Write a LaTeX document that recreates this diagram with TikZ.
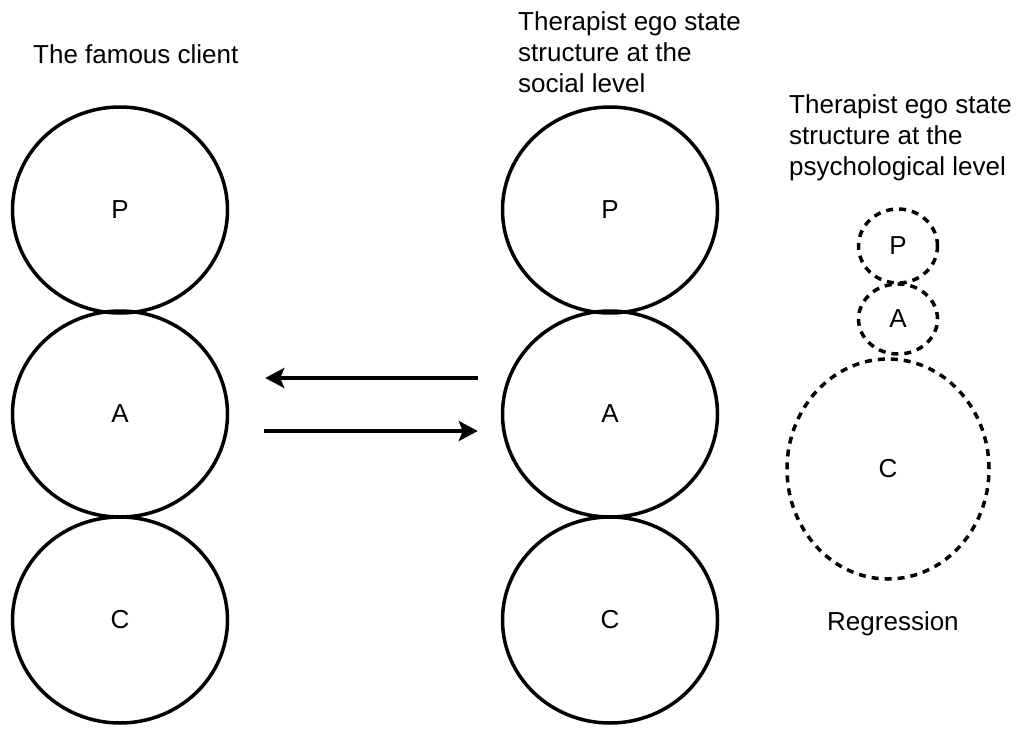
\documentclass[tikz,border=0pt]{standalone}
\usepackage{fontspec}
\setmainfont{Liberation Sans}
\usetikzlibrary{shapes.geometric,arrows.meta,positioning}

\begin{document}
\begin{tikzpicture}[x=1pt,y=-1pt,font=\fontsize{26}{31}\selectfont,
    ego/.style={draw=black,ellipse,line width=3.5pt,inner sep=0pt,minimum width=215pt,minimum height=206pt},
    regress/.style={draw=black,ellipse,line width=3.5pt,dash pattern=on 7pt off 6pt,inner sep=0pt},
    caption/.style={anchor=base west,align=left,inner sep=0pt},
    flow/.style={line width=3.5pt,-{Stealth[length=19pt,width=20pt,inset=4pt]}}]
    \useasboundingbox (0,0) rectangle (1017,731);
    % Client and therapist ego states at the social level
    \node[ego] at (120,210) (cP) {P};
    \node[ego] at (120,414) (cA) {A};
    \node[ego] at (120,620) (cC) {C};
    \node[ego] at (610,210) (tP) {P};
    \node[ego] at (610,414) (tA) {A};
    \node[ego] at (610,620) (tC) {C};

    \node[regress,minimum width=79pt,minimum height=74pt] at (898,246) (rP) {P};
    \node[regress,minimum width=79pt,minimum height=70pt] at (898,319) (rA) {A};
    \node[regress,minimum width=202pt,minimum height=220pt] at (888,469) (rC) {C};

    \node[caption] at (33,63) (client) {The famous client};
    \node[caption] at (518,92) (social) {Therapist ego state\\structure at the\\social level};
    \node[caption] at (789,175) (psych) {Therapist ego state\\structure at the\\psychological level};
    \node[caption] at (827,630) (regr) {Regression};

    \draw[flow,shorten <=23pt,shorten >=36pt] ([yshift=36pt]tA.west) -- ([yshift=36pt]cA.east);
    \draw[flow,shorten <=35pt,shorten >=23pt] ([yshift=-17pt]cA.east) -- ([yshift=-17pt]tA.west);
\end{tikzpicture}
\end{document}
